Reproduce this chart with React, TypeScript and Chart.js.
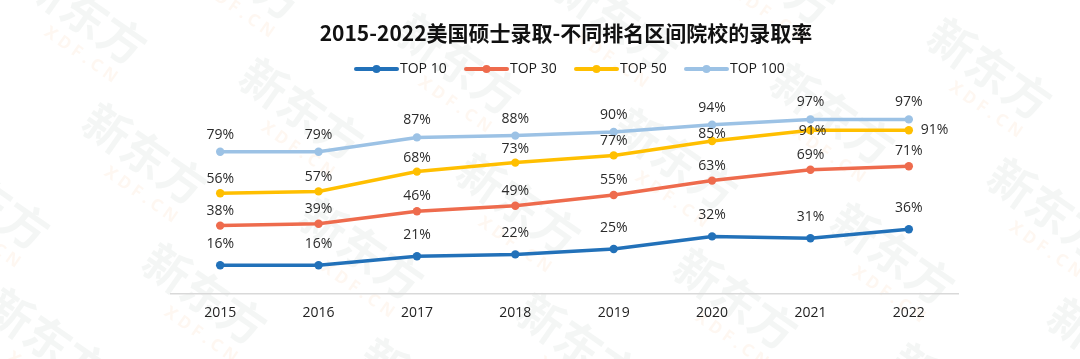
import React, { useEffect, useRef } from "react";
import { Chart, registerables } from "chart.js";

Chart.register(...registerables);

const years = ["2015", "2016", "2017", "2018", "2019", "2020", "2021", "2022"];
const top10 = [16, 16, 21, 22, 25, 32, 31, 36];
const top30 = [38, 39, 46, 49, 55, 63, 69, 71];
const top50 = [56, 57, 68, 73, 77, 85, 91, 91];
const top100 = [79, 79, 87, 88, 90, 94, 97, 97];
const seriesNames = ["TOP 10", "TOP 30", "TOP 50", "TOP 100"];
const seriesColors = ["#2271B9", "#EE6B4D", "#FFBF00", "#9CC2E5"];
const titleText = "2015-2022美国硕士录取-不同排名区间院校的录取率";

const labelRise = [21, 15, 14, 17];
const labelOverrides: Record<string, { dx: number; dy: number; align: CanvasTextAlign }> = {
  "2-5": { dx: 0, dy: -7, align: "center" },
  "2-6": { dx: 2, dy: 1, align: "center" },
  "2-7": { dx: 12, dy: 0, align: "left" },
};

const watermarkPlugin = {
  id: "wm",
  beforeDraw(chart: any) {
    const ctx = chart.ctx;
    ctx.save();
    ctx.fillStyle = "#ffffff";
    ctx.fillRect(0, 0, chart.width, chart.height);
    const ax = 157, ay = -45, bx = 60, by = 140;
    const ox = 833, oy = 114;
    for (let m = -8; m <= 8; m++) {
      for (let n = -4; n <= 4; n++) {
        const cx = ox + m * ax + n * bx;
        const cy = oy + m * ay + n * by;
        if (cx < -120 || cx > 1200 || cy < -120 || cy > 480) continue;
        ctx.save();
        ctx.translate(cx, cy);
        ctx.rotate((35 * Math.PI) / 180);
        ctx.textAlign = "center";
        ctx.textBaseline = "middle";
        ctx.font = "bold 46px 'Noto Sans CJK SC'";
        ctx.fillStyle = "rgba(205,215,210,0.22)";
        ctx.fillText("新东方", 0, 0);
        ctx.font = "bold 17px 'Noto Sans'";
        ctx.fillStyle = "rgba(250,205,170,0.16)";
        ctx.fillText("X D F . C N", 20, 36);
        ctx.restore();
      }
    }
    ctx.restore();
  },
};

const decorPlugin = {
  id: "decor",
  afterDatasetsDraw(chart: any) {
    const ctx = chart.ctx;
    ctx.save();
    ctx.font = "14px 'Open Sans'";
    ctx.fillStyle = "#2b2b2b";
    ctx.textBaseline = "middle";
    chart.data.datasets.forEach((ds: any, di: number) => {
      const meta = chart.getDatasetMeta(di);
      meta.data.forEach((pt: any, i: number) => {
        const o = labelOverrides[di + "-" + i];
        ctx.textAlign = o ? o.align : "center";
        const x = pt.x + (o ? o.dx : 0);
        const y = pt.y + (o ? o.dy : -labelRise[di]);
        ctx.fillText(ds.data[i] + "%", x, y);
      });
    });
    ctx.restore();
  },
  afterDraw(chart: any) {
    const ctx = chart.ctx;
    ctx.save();
    ctx.font = "bold 21px 'Noto Sans CJK SC'";
    ctx.fillStyle = "#111111";
    ctx.textAlign = "center";
    ctx.textBaseline = "middle";
    ctx.fillText(titleText, 566, 33);
    const ly = 69;
    seriesNames.forEach((name, i) => {
      const x0 = 356 + i * 110;
      ctx.strokeStyle = seriesColors[i];
      ctx.lineWidth = 4;
      ctx.lineCap = "round";
      ctx.beginPath();
      ctx.moveTo(x0, ly);
      ctx.lineTo(x0 + 41, ly);
      ctx.stroke();
      ctx.fillStyle = seriesColors[i];
      ctx.beginPath();
      ctx.arc(x0 + 20.5, ly, 4, 0, Math.PI * 2);
      ctx.fill();
      ctx.font = "14px 'Open Sans'";
      ctx.fillStyle = "#1a1a1a";
      ctx.textAlign = "left";
      ctx.fillText(name, x0 + 44, ly);
    });
    ctx.restore();
  },
};

export default function App() {
  const ref = useRef<HTMLCanvasElement | null>(null);
  useEffect(() => {
    if (!ref.current) return;
    const seriesData = [top10, top30, top50, top100];
    const chart = new Chart(ref.current, {
      type: "line",
      data: {
        labels: years,
        datasets: seriesNames.map((name, i) => ({
          label: name,
          data: seriesData[i],
          borderColor: seriesColors[i],
          backgroundColor: seriesColors[i],
          pointBackgroundColor: seriesColors[i],
          pointBorderWidth: 0,
          pointRadius: 4.2,
          borderWidth: 3.5,
          tension: 0,
          fill: false,
        })),
      },
      options: {
        animation: false,
        responsive: false,
        maintainAspectRatio: false,
        layout: { padding: { left: 171, right: 122, top: 114, bottom: 0 } },
        plugins: {
          legend: { display: false },
          title: { display: false },
          tooltip: { enabled: false },
        },
        scales: {
          x: {
            type: "category",
            offset: true,
            grid: { display: false, drawTicks: false },
            border: { display: true, color: "#d9d9d9", width: 1.5 },
            ticks: {
              padding: 11,
              color: "#222222",
              font: { family: "'Open Sans'", size: 14 },
            },
            afterFit: (scale: any) => {
              scale.height = 65;
            },
          },
          y: {
            display: false,
            min: 0,
            max: 100,
          },
        },
      },
      plugins: [watermarkPlugin, decorPlugin],
    });
    return () => chart.destroy();
  }, []);
  return (
    <div style={{ position: "absolute", left: 0, top: 0, width: 1080, height: 359 }}>
      <canvas ref={ref} width={1080} height={359} style={{ display: "block" }} />
    </div>
  );
}
